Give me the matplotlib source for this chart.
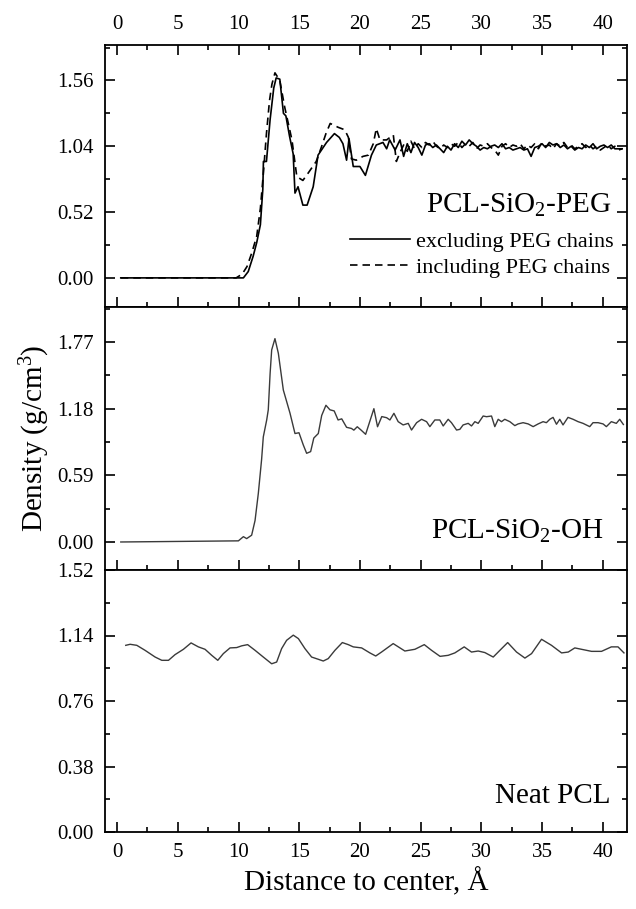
import numpy as np
import matplotlib as mpl
mpl.use('Agg')
import matplotlib.pyplot as plt
from matplotlib.ticker import MultipleLocator

plt.rcParams.update({'font.family': 'Liberation Serif',
                     'mathtext.fontset': 'custom',
                     'mathtext.rm': 'Liberation Serif',
                     'mathtext.it': 'Liberation Serif:italic'})

# PCL-SiO2-PEG, density excluding PEG chains
peg_excl_x = [0.3, 10.4, 10.8, 11.2, 11.5, 11.8, 12.0, 12.05, 12.3, 12.6, 12.9, 13.1, 13.4, 13.7, 13.9,
              14.2, 14.5, 14.65, 14.9, 15.3, 15.65, 16.15, 16.55, 16.9, 17.25, 17.9, 18.3, 18.6, 18.9,
              19.1, 19.45, 20.0, 20.45, 20.95, 21.35, 21.9, 22.2, 22.45, 22.9, 23.3, 23.6, 23.9, 24.2,
              24.5, 24.8, 25.1, 25.4, 25.7, 26.0, 26.3, 26.6, 26.9, 27.2, 27.5, 27.8, 28.1, 28.4, 28.7,
              29.0, 29.3, 29.6, 29.9, 30.2, 30.5, 30.8, 31.1, 31.4, 31.7, 32.0, 32.3, 32.6, 32.9, 33.2,
              33.5, 33.8, 34.1, 34.4, 34.7, 35.0, 35.3, 35.6, 35.9, 36.2, 36.5, 36.8, 37.1, 37.4, 37.7,
              38.0, 38.3, 38.6, 38.9, 39.2, 39.5, 39.8, 40.1, 40.4, 40.7, 41.0, 41.3, 41.6]
peg_excl_y = [0.0, 0.0, 0.05, 0.17, 0.28, 0.42, 0.70, 0.92, 0.92, 1.25, 1.50, 1.58, 1.57, 1.30, 1.28,
              1.12, 0.98, 0.67, 0.72, 0.575, 0.575, 0.72, 0.97, 1.02, 1.07, 1.14, 1.11, 1.06, 0.93,
              1.10, 0.88, 0.88, 0.81, 0.97, 1.05, 1.07, 1.02, 1.09, 1.01, 1.09, 0.96, 1.06, 0.99,
              1.07, 1.03, 0.97, 1.05, 1.06, 1.03, 1.05, 1.02, 0.99, 1.04, 1.01, 1.06, 1.03, 1.08, 1.05,
              1.09, 1.06, 1.04, 1.01, 1.03, 1.02, 1.04, 1.05, 1.03, 1.06, 1.02, 1.03, 1.01, 1.02, 1.03,
              1.01, 1.02, 0.96, 1.03, 1.04, 1.06, 1.03, 1.07, 1.05, 1.06, 1.03, 1.05, 1.02, 1.04, 1.01,
              1.03, 1.02, 1.05, 1.03, 1.06, 1.02, 1.04, 1.05, 1.03, 1.05, 1.02, 1.02, 1.02]

# PCL-SiO2-PEG, density including PEG chains
peg_incl_x = [0.3, 9.8, 10.3, 10.7, 11.1, 11.5, 11.8, 12.05, 12.3, 12.55, 12.75, 13.0, 13.4, 13.8, 14.1,
              14.4, 14.8, 15.3, 15.75, 16.4, 16.85, 17.2, 17.55, 18.2, 18.75, 19.05, 19.3, 19.7, 20.25,
              20.7, 21.1, 21.35, 21.65, 22.2, 22.75, 23.0, 23.3, 23.6, 23.9, 24.2, 24.5, 24.8, 25.1,
              25.4, 25.7, 26.0, 26.3, 26.6, 26.9, 27.2, 27.5, 27.8, 28.1, 28.4, 28.7, 29.0, 29.3, 29.6,
              29.9, 30.2, 30.5, 30.8, 31.1, 31.4, 31.7, 32.0, 32.3, 32.6, 32.9, 33.2, 33.5, 33.8, 34.1,
              34.4, 34.7, 35.0, 35.3, 35.6, 35.9, 36.2, 36.5, 36.8, 37.1, 37.4, 37.7, 38.0, 38.3, 38.6,
              38.9, 39.2, 39.5, 39.8, 40.1, 40.4, 40.7, 41.0, 41.3, 41.6]
peg_incl_y = [0.0, 0.0, 0.03, 0.09, 0.20, 0.33, 0.55, 0.83, 1.14, 1.40, 1.53, 1.62, 1.56, 1.35, 1.22,
              1.09, 0.80, 0.77, 0.83, 0.92, 1.04, 1.14, 1.22, 1.19, 1.17, 1.11, 0.94, 0.93, 0.96,
              0.97, 1.06, 1.18, 1.09, 1.09, 1.13, 0.92, 0.99, 1.05, 1.00, 1.08, 1.02, 1.06, 1.03,
              1.07, 1.05, 1.08, 1.04, 1.02, 1.05, 1.03, 1.06, 1.04, 1.07, 1.03, 1.06, 1.04, 1.07, 1.02,
              1.05, 1.04, 1.06, 1.03, 1.01, 0.97, 1.04, 1.06, 1.03, 1.05, 1.04, 1.06, 1.02, 1.05, 1.03,
              1.06, 1.02, 1.07, 1.04, 1.05, 1.02, 1.06, 1.04, 1.07, 1.03, 1.05, 1.02, 1.04, 1.06, 1.03,
              1.05, 1.02, 1.04, 1.01, 1.03, 1.05, 1.02, 1.04, 1.01, 1.02]

# PCL-SiO2-OH
oh_x = [0.3, 9.99, 10.4, 10.67, 11.08, 11.36, 11.63, 11.9, 12.04, 12.32, 12.45, 12.6, 12.73, 13.0,
        13.28, 13.69, 14.24, 14.65, 14.98, 15.33, 15.61, 15.94, 16.2, 16.57, 16.85, 17.2, 17.53,
        17.88, 18.2, 18.5, 18.9, 19.3, 19.5, 19.78, 20.1, 20.47, 21.15, 21.45, 21.8, 22.2, 22.47,
        22.8, 23.15, 23.56, 23.98, 24.25, 24.67, 25.08, 25.49, 25.76, 26.17, 26.58, 26.86, 27.27,
        27.54, 27.96, 28.23, 28.5, 28.92, 29.19, 29.47, 29.74, 30.15, 30.43, 30.84, 31.11, 31.39,
        31.66, 31.93, 32.35, 32.76, 33.03, 33.44, 33.86, 34.27, 34.68, 35.09, 35.36, 35.64, 35.91,
        36.19, 36.46, 36.73, 37.14, 37.56, 37.97, 38.38, 38.93, 39.2, 39.62, 40.03, 40.3, 40.71,
        41.12, 41.4, 41.7]
oh_y = [0.0, 0.01, 0.047, 0.03, 0.06, 0.19, 0.43, 0.73, 0.93, 1.08, 1.17, 1.49, 1.70, 1.80,
        1.67, 1.345, 1.14, 0.96, 0.967, 0.86, 0.785, 0.80, 0.92, 0.96, 1.12, 1.21, 1.17,
        1.16, 1.08, 1.09, 1.015, 1.005, 0.99, 1.02, 0.99, 0.953, 1.18, 1.02, 1.11, 1.10, 1.08,
        1.139, 1.065, 1.036, 1.05, 0.991, 1.056, 1.086, 1.065, 1.021, 1.08, 1.08, 1.027, 1.086,
        1.056, 0.991, 0.997, 1.036, 1.05, 1.027, 1.065, 1.05, 1.115, 1.109, 1.115, 1.021, 1.086,
        1.065, 1.086, 1.065, 1.03, 1.045, 1.056, 1.045, 1.021, 1.045, 1.065, 1.056, 1.086, 1.103,
        1.042, 1.086, 1.036, 1.103, 1.086, 1.065, 1.05, 1.021, 1.056, 1.056, 1.045, 1.021, 1.065,
        1.05, 1.086, 1.04]

# Neat PCL
neat_x = [0.71, 1.07, 1.62, 2.3, 3.13, 3.68, 4.23, 4.77, 5.46, 6.09, 6.69, 7.24, 7.79, 8.29, 8.75,
          9.3, 9.85, 10.26, 10.75, 11.36, 12.04, 12.73, 13.14, 13.55, 13.96, 14.51, 14.93, 15.47,
          16.02, 16.57, 16.98, 17.39, 17.94, 18.55, 19.04, 19.45, 20.14, 20.82, 21.3, 21.78, 22.74,
          23.7, 24.53, 25.3, 25.9, 26.6, 27.27, 27.82, 28.59, 29.19, 29.74, 30.29, 30.98, 31.53,
          32.17, 32.9, 33.59, 34.14, 34.96, 35.78, 36.61, 37.16, 37.7, 38.25, 39.08, 39.9, 40.71,
          41.26, 41.75]
neat_y = [1.083, 1.089, 1.083, 1.054, 1.015, 0.996, 0.996, 1.029, 1.06, 1.097, 1.074, 1.06, 1.025,
          0.996, 1.035, 1.068, 1.07, 1.08, 1.087, 1.054, 1.015, 0.976, 0.986, 1.064, 1.112, 1.142,
          1.122, 1.064, 1.015, 1.002, 0.992, 1.006, 1.054, 1.099, 1.087, 1.074, 1.068, 1.039,
          1.021, 1.044, 1.093, 1.05, 1.06, 1.087, 1.054, 1.019, 1.025, 1.039, 1.074, 1.044, 1.05,
          1.041, 1.015, 1.054, 1.099, 1.044, 1.009, 1.035, 1.118, 1.083, 1.039, 1.044, 1.068, 1.06,
          1.048, 1.048, 1.074, 1.074, 1.039]

y_ticks_top = [0.00, 0.52, 1.04, 1.56]
y_ticks_mid = [0.00, 0.59, 1.18, 1.77]
y_ticks_bot = [0.00, 0.38, 0.76, 1.14, 1.52]

W, H = 636, 909
fig = plt.figure(figsize=(W / 100, H / 100), dpi=100)

left, right = 105 / W, 627 / W
edges = [45, 307, 570, 832]
axs = []
for i in range(3):
    b = 1 - edges[i + 1] / H
    h = (edges[i + 1] - edges[i]) / H
    axs.append(fig.add_axes([left, b, right - left, h]))

ax1, ax2, ax3 = axs

ax1.plot(peg_excl_x, peg_excl_y, color='black', lw=1.2, label='excluding PEG chains')
ax1.plot(peg_incl_x, peg_incl_y, color='black', lw=1.2, dashes=(4.5, 3),
         label='including PEG chains')
ax2.plot(oh_x, oh_y, color='#3a3a3a', lw=1.0)
ax3.plot(neat_x, neat_y, color='#3a3a3a', lw=1.0)

ax1.set_ylim(-0.23, 1.84)
ax2.set_ylim(-0.248, 2.08)
ax3.set_ylim(0, 1.52)
ax1.set_yticks(y_ticks_top)
ax2.set_yticks(y_ticks_mid)
ax3.set_yticks(y_ticks_bot)
ax1.yaxis.set_minor_locator(MultipleLocator(0.26))
ax2.yaxis.set_minor_locator(MultipleLocator(0.295))
ax3.yaxis.set_minor_locator(MultipleLocator(0.19))

for ax in axs:
    ax.set_xlim(-1, 42.0)
    ax.xaxis.set_major_locator(MultipleLocator(5))
    ax.xaxis.set_minor_locator(MultipleLocator(2.5))
    ax.yaxis.set_major_formatter(mpl.ticker.FormatStrFormatter('%.2f'))
    for s in ax.spines.values():
        s.set_linewidth(1.3)
    ax.tick_params(which='both', direction='in', width=1.2, labelsize=15,
                   left=True, right=True, bottom=True, top=False, labelbottom=False)
    ax.tick_params(which='major', length=7, pad=8)
    ax.tick_params(which='minor', length=3.5)

ax1.tick_params(which='both', top=True, labeltop=True)
ax3.tick_params(which='both', labelbottom=True)

ax1.text(0.97, 0.36, 'PCL-SiO$_2$-PEG', transform=ax1.transAxes, ha='right',
         va='baseline', fontsize=21)
ax2.text(0.955, 0.12, 'PCL-SiO$_2$-OH', transform=ax2.transAxes, ha='right',
         va='baseline', fontsize=21)
ax3.text(0.968, 0.11, 'Neat PCL', transform=ax3.transAxes, ha='right',
         va='baseline', fontsize=21)

ax1.legend(loc='lower right', bbox_to_anchor=(0.975, 0.11), frameon=False, fontsize=16,
           handlelength=2.7, handletextpad=0.3, labelspacing=0.25, borderpad=0,
           borderaxespad=0)

fig.text(0.5 * (left + right), 0.014, 'Distance to center, Å', ha='center', va='bottom',
         fontsize=21)
fig.text(0.055, 1 - 438 / H, 'Density (g/cm$^3$)', rotation=90, ha='center', va='center',
         fontsize=21)

fig.savefig('out.png', dpi=100)
